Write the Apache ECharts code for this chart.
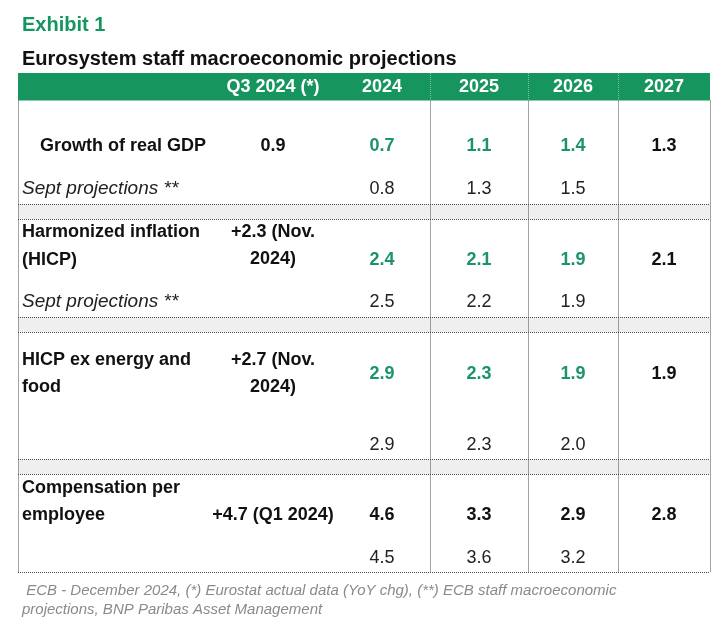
<!DOCTYPE html>
<html><head><meta charset="utf-8">
<script src="https://cdn.jsdelivr.net/npm/echarts/dist/echarts.min.js"></script>
<style>html,body{margin:0;padding:0;background:#fff}#c{width:725px;height:630px}</style>
</head><body><div id="c"></div>
<script>
// ---------- DATA ----------
const exhibitLabel = 'Exhibit 1';
const chartTitle = 'Eurosystem staff macroeconomic projections';
const headers = ['Q3 2024 (*)', '2024', '2025', '2026', '2027'];
const indicators = ['Growth of real GDP', 'Harmonized inflation\n(HICP)', 'HICP ex energy and\nfood', 'Compensation per\nemployee'];
const latestData = ['0.9', '+2.3 (Nov.\n2024)', '+2.7 (Nov.\n2024)', '+4.7 (Q1 2024)'];
const gdpDec = [0.7, 1.1, 1.4, 1.3];
const gdpSept = [0.8, 1.3, 1.5];
const hicpDec = [2.4, 2.1, 1.9, 2.1];
const hicpSept = [2.5, 2.2, 1.9];
const coreDec = [2.9, 2.3, 1.9, 1.9];
const coreSept = [2.9, 2.3, 2.0];
const compDec = [4.6, 3.3, 2.9, 2.8];
const compSept = [4.5, 3.6, 3.2];
const septLabels = ['Sept projections **', 'Sept projections **', '', ''];
const footnote = ' ECB - December 2024, (*) Eurostat actual data (YoY chg), (**) ECB staff macroeconomic\nprojections, BNP Paribas Asset Management';

const decValues = [gdpDec, hicpDec, coreDec, compDec];
const septValues = [gdpSept, hicpSept, coreSept, compSept];

// ---------- LAYOUT / STYLE ----------
const FONT = '"Liberation Sans", Arial, sans-serif';
const GREEN = '#17955f';
const GREEN_TXT = '#1b9467';
const colX = [273, 382, 479, 573, 664];
const tableLeft = 18, tableRight = 710, headerTop = 73, headerBottom = 100.5, tableBottom = 572;
const headerY = 87;
const dividerX = [430, 528, 618];
const greenRows = [true, true, true, false];
const blocks = [
  {labelX: 40, labelY: 146, q3Y: 146, valueY: 146, septY: 189, band: [204, 219]},
  {labelX: 22, labelY: 246, q3Y: 246, valueY: 260, septY: 302, band: [317, 332]},
  {labelX: 22, labelY: 373.5, q3Y: 374, valueY: 374, septY: 445, band: [459, 474]},
  {labelX: 22, labelY: 501.5, q3Y: 515, valueY: 515, septY: 558, band: null}
];
const kinds = {
  header:   {fill: '#ffffff', fontWeight: 'bold', fontSize: 18, align: 'center'},
  label:    {fill: '#111111', fontWeight: 'bold', fontSize: 18, align: 'left', lineHeight: 27.5},
  q3:       {fill: '#111111', fontWeight: 'bold', fontSize: 18, align: 'center', lineHeight: 27},
  green:    {fill: GREEN_TXT, fontWeight: 'bold', fontSize: 18, align: 'center'},
  bold:     {fill: '#111111', fontWeight: 'bold', fontSize: 18, align: 'center'},
  regular:  {fill: '#222222', fontWeight: 'normal', fontSize: 18, align: 'center'},
  septLabel:{fill: '#222222', fontWeight: 'normal', fontStyle: 'italic', fontSize: 19, align: 'left'}
};

// ---------- build cells ----------
const cells = [];
function addCell(x, y, text, kind) { cells.push({value: [x, y], text: text, kind: kind}); }
headers.forEach((h, j) => addCell(colX[j], headerY, h, 'header'));
indicators.forEach((name, i) => {
  const b = blocks[i];
  addCell(b.labelX, b.labelY, name, 'label');
  addCell(colX[0], b.q3Y, latestData[i], 'q3');
  decValues[i].forEach((v, j) => addCell(colX[j + 1], b.valueY, v.toFixed(1), (greenRows[i] && j < 3) ? 'green' : 'bold'));
  if (septLabels[i]) addCell(22, b.septY, septLabels[i], 'septLabel');
  septValues[i].forEach((v, j) => addCell(colX[j + 1], b.septY, v.toFixed(1), 'regular'));
});

// ---------- build structure shapes ----------
const shapes = [];
shapes.push({value: [tableLeft, headerTop, tableRight, headerBottom], kind: 'headerRect'});
blocks.forEach(b => {
  if (b.band) {
    shapes.push({value: [tableLeft, b.band[0], tableRight, b.band[1]], kind: 'bandRect'});
  }
});
blocks.forEach(b => {
  if (b.band) {
    shapes.push({value: [tableLeft, b.band[0], tableRight, b.band[0]], kind: 'line'});
    shapes.push({value: [tableLeft, b.band[1], tableRight, b.band[1]], kind: 'line'});
  }
});
shapes.push({value: [tableLeft, tableBottom, tableRight, tableBottom], kind: 'line'});
[tableLeft, tableRight].forEach(x => shapes.push({value: [x, headerBottom, x, tableBottom], kind: 'line'}));
dividerX.forEach(x => {
  shapes.push({value: [x, headerTop, x, headerBottom], kind: 'hdrLine'});
  shapes.push({value: [x, headerBottom, x, tableBottom], kind: 'line'});
});

const chart = echarts.init(document.getElementById('c'), null, {renderer: 'canvas'});
chart.setOption({
  animation: false,
  backgroundColor: '#ffffff',
  title: [
    {text: exhibitLabel, left: 22, top: 15, padding: 0, textStyle: {fontFamily: FONT, fontSize: 20, fontWeight: 'bold', color: GREEN}},
    {text: chartTitle, left: 22, top: 49, padding: 0, textStyle: {fontFamily: FONT, fontSize: 20, fontWeight: 'bold', color: '#111111'}},
    {text: footnote, left: 22, top: 581, padding: 0, textStyle: {fontFamily: FONT, fontSize: 15, fontWeight: 'normal', fontStyle: 'italic', color: '#8a8a8a', lineHeight: 19}}
  ],
  grid: {left: 0, right: 0, top: 0, bottom: 0},
  xAxis: {type: 'value', min: 0, max: 725, show: false},
  yAxis: {type: 'value', min: 0, max: 630, inverse: true, show: false},
  series: [
    {
      type: 'custom', silent: true, clip: false, z: 1,
      data: shapes.map(s => s.value),
      renderItem: function (params, api) {
        const s = shapes[params.dataIndex];
        const p1 = api.coord([api.value(0), api.value(1)]);
        const p2 = api.coord([api.value(2), api.value(3)]);
        if (s.kind === 'headerRect' || s.kind === 'bandRect') {
          return {type: 'rect', shape: {x: p1[0], y: p1[1], width: p2[0] - p1[0], height: p2[1] - p1[1]},
            style: {fill: s.kind === 'headerRect' ? GREEN : '#efefef'}};
        }
        const off = 0.5;
        const horiz = Math.abs(p1[1] - p2[1]) < 0.01;
        return {type: 'line',
          shape: horiz ? {x1: p1[0], y1: Math.round(p1[1]) + off, x2: p2[0], y2: Math.round(p2[1]) + off}
                       : {x1: Math.round(p1[0]) + off, y1: p1[1], x2: Math.round(p2[0]) + off, y2: p2[1]},
          style: {stroke: s.kind === 'hdrLine' ? 'rgba(255,255,255,0.45)' : '#4a4a4a', lineWidth: 1, lineDash: [1, 1]}};
      }
    },
    {
      type: 'custom', silent: true, clip: false, z: 5,
      data: cells.map(c => c.value),
      renderItem: function (params, api) {
        const c = cells[params.dataIndex];
        const k = kinds[c.kind];
        const p = api.coord([api.value(0), api.value(1)]);
        return {type: 'text', x: p[0], y: p[1],
          style: {text: c.text, fill: k.fill, fontFamily: FONT, fontSize: k.fontSize, fontWeight: k.fontWeight,
            fontStyle: k.fontStyle || 'normal', align: k.align, verticalAlign: 'middle', lineHeight: k.lineHeight || k.fontSize * 1.2}};
      }
    }
  ]
});
</script></body></html>
